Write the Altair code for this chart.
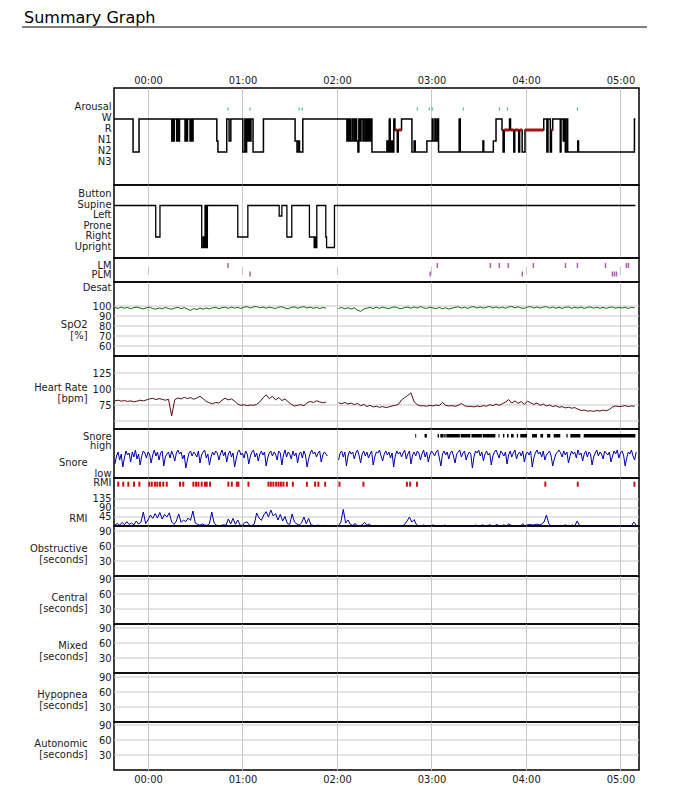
import altair as alt
import pandas as pd

# ---------------- data (times are minutes after 00:00) ----------------
chart_title = "Summary Graph"
hour_ticks = [0, 60, 120, 180, 240, 300]
x_domain = [-21.6, 311.8]

stage_names = ["Arousal", "W", "R", "N1", "N2", "N3"]
hyp_t = [-21.6, -9.5, -5.7, 15.1, 15.6, 16.2, 16.7, 18.2, 18.8, 19.5, 20.0, 23.5, 24.0, 24.6, 25.1, 26.7, 27.2, 27.8, 28.6,
         43.7, 44.4, 50.0, 51.5, 52.6, 60.2, 61.5, 62.0, 62.6, 63.4, 64.0, 64.8, 65.4, 66.7, 73.3,
         93.4, 94.6, 95.6, 96.2, 98.3,
         126.3, 126.9, 127.6, 128.2, 128.9, 130.0, 131.0, 131.6, 132.5, 133.3, 133.9, 134.7, 135.3, 136.5, 137.0, 138.0, 138.6, 139.5, 140.1, 141.0, 141.6,
         142.2, 151.7, 152.4, 153.2, 153.8, 154.6, 155.3, 156.1, 156.8, 158.3, 158.9, 161.0, 167.6, 169.0, 169.7, 177.1, 180.5, 181.0, 182.2, 182.8, 183.8, 184.5, 197.6, 198.3, 212.7, 213.2, 219.3, 221.0,
         224.8, 225.5, 226.2, 229.6, 230.2, 232.3, 232.9, 235.4, 236.0, 237.6, 239.4, 251.3, 253.3, 254.0, 255.5, 256.2, 257.0, 261.8, 262.3, 263.7, 264.3, 265.0, 266.0, 266.5, 272.9, 273.4, 308.9, 309.5]
hyp_stage = [1, 4, 1, 3, 1, 3, 1, 3, 1, 3, 1, 3, 1, 3, 1, 3, 1, 3, 1,
             3, 4, 1, 3, 1, 4, 1, 4, 1, 3, 1, 3, 1, 4, 1,
             3, 4, 3, 4, 1,
             3, 1, 3, 1, 3, 1, 3, 1, 3, 4, 1, 3, 1, 3, 1, 3, 1, 3, 1, 3, 1,
             4, 3, 4, 1, 4, 3, 4, 1, 2, 4, 2, 1, 4, 3, 4, 3, 1, 3, 1, 3, 1, 4, 1, 4, 3, 4, 3, 1,
             2, 4, 2, 1, 2, 4, 2, 4, 2, 4, 2, 1, 4, 1, 4, 2, 1, 4, 1, 3, 1, 4, 1, 4, 3, 4, 1, 1]
arousal_t = [50.8, 64.8, 96.0, 97.9, 171.0, 178.6, 180.5, 200.2, 223.1, 228.2, 272.7]

pos_names = ["Button", "Supine", "Left", "Prone", "Right", "Upright"]
pos_t = [-21.6, 4.9, 7.6, 34.1, 35.0, 35.6, 36.2, 36.6, 37.0, 37.4, 37.7, 57.0, 63.4, 83.3, 85.0,
         88.2, 91.3, 102.5, 105.5, 106.0, 106.5, 107.2, 112.9, 113.4, 118.4, 309.5]
pos_val = [1, 4, 1, 5, 4, 5, 1, 5, 1, 5, 1, 4, 1, 2, 1, 4, 1, 4, 5, 4, 5, 1, 4, 5, 1, 1]

lm_t = [50.8, 183.7, 217.4, 223.1, 228.8, 244.7, 265.1, 272.7, 290.5, 303.8, 305.1]
plm_t = [64.8, 179.2, 237.7, 294.9, 296.2, 297.5]

slow_starts = [-21, 121]
spo2_a = [98.5, 97.6, 98.9, 97.8, 98.6, 97.2, 98.4, 99.0, 97.9, 97.1,
          98.3, 98.8, 97.5, 96.8, 98.1, 97.2, 98.6, 97.4, 96.9, 98.0,
          98.7, 97.3, 98.4, 97.0, 95.6, 97.4, 96.5, 97.9, 96.8, 98.1,
          97.0, 98.2, 98.6, 97.3, 98.3, 98.8, 97.6, 98.9, 97.8, 98.7,
          97.5, 98.9, 99.3, 98.0, 99.1, 99.4, 98.2, 99.0, 97.8, 98.9,
          98.1, 97.5, 98.8, 99.2, 97.9, 97.3, 98.6, 99.1, 97.8, 98.7,
          99.3, 98.0, 98.9, 97.7, 98.6, 97.4, 98.5, 97.9]
spo2_b = [97.6, 98.5, 97.2, 98.3, 96.9, 98.2, 96.0, 94.6, 96.9, 97.9,
          98.6, 97.5, 98.8, 97.7, 98.9, 98.0, 97.4, 98.6, 99.0, 97.8,
          97.3, 98.5, 98.9, 97.7, 99.1, 98.0, 99.4, 98.2, 97.6, 98.9,
          98.0, 97.4, 98.6, 97.2, 98.3, 97.0, 97.8, 98.7, 99.2, 97.9,
          98.8, 97.6, 98.9, 99.3, 98.0, 99.0, 97.9, 98.8, 99.5, 98.1,
          99.1, 97.9, 98.9, 97.7, 99.0, 99.5, 98.2, 99.2, 98.0, 97.7,
          98.9, 99.4, 98.0, 99.1, 97.9, 98.9, 99.3, 97.9, 99.0, 97.8,
          98.8, 97.6, 98.7, 99.1, 97.7, 98.8, 97.9, 98.9, 97.6, 98.6,
          99.0, 97.8, 98.8, 97.7, 98.7, 97.6, 98.6, 98.9, 97.8, 98.7,
          97.9, 98.8, 97.6, 98.6, 98.2]

hr_a = [81.5, 82.5, 81.0, 82.0, 80.5, 81.5, 80.0, 81.0, 82.5, 81.5, 83.0, 84.5, 85.5, 83.5, 85.0, 84.0, 82.5,
        84.0, 58.0, 83.5, 86.0, 84.5, 87.0, 85.0, 86.5, 84.0, 86.0, 88.5, 85.0, 80.5, 78.5, 77.0, 79.0, 78.0,
        82.5, 85.5, 83.0, 84.5, 81.0, 76.5, 74.5, 75.5, 74.0, 75.0, 74.5, 76.0, 80.0, 86.0, 91.0, 85.0, 88.5,
        83.0, 86.5, 82.0, 84.5, 80.0, 76.0, 73.5, 74.5, 75.5, 74.0, 78.5, 80.5, 79.0, 81.5, 80.0, 78.5, 79.5]
hr_b = [78.5, 77.0, 79.0, 76.5, 78.0, 75.5, 77.5, 74.0, 76.0, 72.5, 74.5, 72.0, 73.0, 71.5, 72.5, 71.0, 72.0,
        73.5, 74.5, 76.0, 83.0, 86.5, 90.0, 94.0, 80.0, 75.5, 73.5, 74.0, 73.0, 74.5, 73.5, 75.0, 74.0, 79.0,
        74.5, 73.5, 74.0, 73.0, 74.5, 77.5, 74.0, 72.5, 73.0, 72.0, 73.5, 72.5, 74.0, 73.0, 75.5, 74.0, 76.5,
        74.5, 77.0, 79.5, 83.5, 78.0, 81.5, 77.5, 80.5, 76.0, 81.0, 78.5, 76.0, 78.0, 74.5, 76.5, 73.5, 75.0,
        72.5, 74.0, 71.5, 72.5, 70.5, 71.5, 70.0, 71.0, 68.5, 66.5, 67.0, 65.5, 66.0, 65.0, 66.5, 65.5, 67.0,
        66.0, 68.0, 72.0, 73.5, 72.5, 73.0, 74.0, 72.5, 73.5, 73.0]

snore_starts = [-21, 121]
snore_a = [14, 22, 26, 18, 24, 11, 20, 27, 23, 25, 16, 26, 21, 28, 19, 24, 13, 22, 27, 25,
           20, 26, 24, 15, 23, 28, 22, 26, 18, 25, 27, 12, 21, 24, 26, 20, 27, 23, 17, 25,
           28, 24, 26, 19, 23, 10, 18, 25, 27, 22, 26, 24, 21, 27, 15, 23, 26, 28, 20, 24,
           13, 21, 26, 23, 27, 25, 18, 24, 28, 22, 26, 16, 24, 27, 21, 25, 11, 19, 26, 28,
           23, 25, 20, 27, 24, 14, 22, 26, 28, 21, 25, 17, 24, 27, 23, 26, 12, 20, 25, 27,
           22, 26, 24, 18, 27, 25, 13, 23, 28, 21, 26, 24, 19, 27, 22, 25, 15, 24, 26, 20,
           27, 23, 11, 19, 25, 28, 24, 26, 21, 25, 27, 16, 23, 26, 24, 22]
snore_b = [18, 25, 27, 21, 26, 12, 22, 27, 24, 26, 19, 25, 28, 23, 15, 24, 27, 22, 26, 20,
           24, 27, 13, 21, 26, 25, 28, 22, 17, 24, 27, 23, 26, 20, 25, 11, 22, 27, 24, 26,
           21, 25, 28, 19, 24, 27, 14, 23, 26, 22, 27, 25, 18, 24, 28, 21, 26, 16, 23, 27,
           25, 22, 26, 28, 20, 12, 24, 27, 23, 26, 19, 25, 27, 22, 15, 24, 26, 28, 21, 25,
           27, 18, 23, 26, 24, 10, 21, 27, 25, 28, 22, 26, 17, 24, 27, 23, 25, 13, 22, 26,
           28, 24, 20, 27, 25, 22, 26, 14, 23, 27, 21, 25, 28, 19, 24, 26, 22, 27, 16, 24,
           26, 23, 27, 11, 20, 25, 28, 24, 26, 21, 27, 18, 23, 25, 27, 22, 12, 19, 24, 26,
           28, 25, 21, 27, 23, 26, 15, 22, 27, 24, 26, 20, 28, 23, 25, 17, 24, 27, 21, 26,
           24, 13, 21, 25, 28, 22, 26, 24, 19, 27, 25, 23, 26, 16, 22, 27, 24, 28, 20, 25,
           27, 23, 12, 20, 26, 24, 28, 22, 18, 26]
snore_ev_start = [169.7, 175.6, 183.9, 185.6, 188.1, 189.4, 198.5, 205.4, 212.5, 222.6, 225.4, 228.0, 230.5,
                  234.2, 236.4, 243.9, 249.2, 253.4, 257.6, 265.7, 268.2, 276.7]
snore_ev_end = [170.3, 177.1, 184.8, 187.7, 189.0, 198.0, 204.7, 212.0, 220.6, 223.2, 226.3, 229.0, 232.2,
                235.0, 240.7, 247.0, 250.9, 255.5, 261.8, 266.5, 274.6, 309.5]

rmi_starts = [-21, 121]
rmi_a = [5, 12, 4, 18, 6, 22, 8, 15, 5, 25, 10, 18, 70, 12, 30, 55, 38, 62, 40, 68,
         35, 58, 45, 66, 20, 8, 25, 60, 18, 30, 22, 40, 28, 75, 15, 8, 4, 10, 5, 3,
         12, 70, 15, 4, 2, 3, 6, 3, 35, 10, 38, 8, 30, 4, 2, 18, 20, 3, 2, 10,
         65, 40, 28, 55, 72, 45, 80, 50, 62, 30, 58, 25, 48, 12, 8, 60, 20, 10, 5, 15,
         45, 12, 38, 6, 3, 2, 4, 2, 3, 2, 2]
rmi_b = [2, 20, 83, 15, 30, 8, 3, 12, 2, 0, 6, 18, 4, 10, 0, 0, 3, 0, 0, 0,
         0, 0, 0, 0, 0, 0, 0, 0, 8, 25, 45, 20, 32, 6, 0, 0, 5, 0, 0, 0,
         6, 0, 0, 0, 0, 5, 0, 0, 0, 0, 0, 0, 0, 0, 0, 0, 0, 0, 5, 0,
         0, 6, 0, 0, 7, 0, 0, 8, 0, 0, 6, 0, 10, 4, 0, 0, 0, 0, 12, 0,
         6, 8, 5, 7, 9, 6, 10, 20, 55, 12, 0, 0, 0, 0, 0, 0, 6, 0, 0, 5,
         0, 25, 4, 0, 0, 0, 0, 0, 0, 0, 0, 0, 0, 0, 0, 0, 0, 0, 0, 0,
         0, 0, 0, 0, 0, 20, 4]
rmi_ev = [-18.9, -15.7, -12.5, -8.9, -5.5, 0.8, 2.4, 4.4, 5.9, 7.6, 9.7, 11.9, 20.3, 22.4, 28.8, 30.5, 32.0,
          34.1, 36.2, 37.3, 39.4, 51.0, 53.2, 56.4, 57.4, 63.8, 76.5, 78.0, 79.6, 81.4, 82.9, 84.4, 86.0, 88.2,
          92.0, 100.9, 106.1, 108.2, 112.5, 121.6, 136.8, 164.4, 166.5, 170.8, 252.3, 272.9, 308.9]

spo2_labels = [100, 90, 80, 70, 60]
hr_labels = [125, 100, 75]
hr_grid = [125, 100, 75, 50]
rmi_labels = [135, 90, 45]
event_labels = [90, 60, 30]
event_panels = ["Obstructive", "Central", "Mixed", "Hypopnea", "Autonomic"]

# ---------------- styling ----------------
FONT = "DejaVu Sans Condensed, Liberation Sans, Arial, sans-serif"
TITLE_FONT = "DejaVu Sans, Verdana, sans-serif"
TXT = "#1a1a1a"
GRID = "#c8c8c8"
W = 525


def trace_frame(starts, parts, step):
    rows = []
    for s, (start, vals) in enumerate(zip(starts, parts)):
        for i, v in enumerate(vals):
            rows.append({"t": start + step * i, "v": v, "seg": s})
    return pd.DataFrame(rows)


hyp_df = pd.DataFrame({"t": hyp_t, "stage": hyp_stage})
hyp_df["t2"] = hyp_df["t"].shift(-1)
rem_df = hyp_df[(hyp_df["stage"] == 2) & hyp_df["t2"].notna()]
pos_df = pd.DataFrame({"t": pos_t, "pos": pos_val})
ar_df = pd.DataFrame({"t": arousal_t})
lm_df = pd.concat([pd.DataFrame({"t": lm_t, "kind": "LM"}), pd.DataFrame({"t": plm_t, "kind": "PLM"})])
spo2_df = trace_frame(slow_starts, [spo2_a, spo2_b], 2)
hr_df = trace_frame(slow_starts, [hr_a, hr_b], 2)
snore_df = trace_frame(snore_starts, [snore_a, snore_b], 1)
rmi_df = trace_frame(rmi_starts, [rmi_a, rmi_b], 1.5)
sev_df = pd.DataFrame({"t": snore_ev_start, "t1": snore_ev_end})
rev_df = pd.DataFrame({"t": rmi_ev})
hours_df = pd.DataFrame({"t": hour_ticks})
title_df = pd.DataFrame({"txt": [chart_title]})

xs = alt.Scale(domain=x_domain, nice=False, zero=False)
XEXPR = "'0' + floor(datum.value / 60) + ':00'"


def xaxis(kind):
    common = dict(values=hour_ticks, grid=True, gridColor=GRID, gridWidth=1, domain=False,
                  ticks=False, tickSize=0, title=None)
    if kind in ("top", "bottom"):
        return alt.Axis(orient=kind, labelExpr=XEXPR, labelFont=FONT, labelFontSize=11,
                        labelColor=TXT, labelPadding=3, labelFlush=False, **common)
    return alt.Axis(labels=False, **common)


def X(kind, field="t"):
    return alt.X(f"{field}:Q", scale=xs, axis=xaxis(kind))


def yaxis(values=None, expr=None, title=None, title_y=0, label_offset=0):
    kw = dict(grid=False, domain=False, ticks=False, tickSize=0, labelPadding=3,
              labelFont=FONT, labelFontSize=11, labelColor=TXT,
              labelOverlap=False, labelFlush=False)
    if values is not None:
        kw["values"] = values
    if expr:
        kw["labelExpr"] = expr
    if label_offset:
        kw["labelOffset"] = label_offset
    if title is not None:
        kw.update(title=title, titleAngle=0, titleAlign="right", titleBaseline="top",
                  titleX=-27, titleY=title_y, titleFont=FONT, titleFontSize=11,
                  titleFontWeight="normal", titleColor=TXT, titleLineHeight=11)
    else:
        kw["title"] = None
    return alt.Axis(**kw)


def names_expr(names):
    return "[" + ",".join(f"'{n}'" for n in names) + "][datum.value]"


def hgrid(values, Y):
    return alt.Chart(pd.DataFrame({"g": values})).mark_rule(color=GRID, strokeWidth=1).encode(y=Y("g:Q"))


def vhold(kind):
    return alt.Chart(hours_df).mark_rule(opacity=0).encode(x=X(kind))


# ---- panel 1: hypnogram ----
ys1 = alt.Scale(domain=[-1.818, 7.0], reverse=True, nice=False, zero=False)
ya1 = yaxis(values=list(range(len(stage_names))), expr=names_expr(stage_names), label_offset=-1)
Y1 = lambda f: alt.Y(f, scale=ys1, axis=ya1)
p1 = alt.layer(
    alt.Chart(title_df).mark_text(align="left", baseline="top", font=TITLE_FONT, fontSize=16, color="black")
    .encode(x=alt.value(-90), y=alt.value(-78.5), text="txt:N"),
    alt.Chart(title_df).mark_rule(color="black", strokeWidth=1)
    .encode(x=alt.value(-92), x2=alt.value(533), y=alt.value(-61)),
    alt.Chart(hyp_df).mark_line(interpolate="step-after", color="black", strokeWidth=1.5)
    .encode(x=X("top"), y=Y1("stage:Q")),
    alt.Chart(rem_df).mark_rule(color="#a31515", strokeWidth=3)
    .encode(x=X("top"), x2="t2:Q", y=Y1("stage:Q")),
    alt.Chart(ar_df).mark_rule(color="#2bbf5a", strokeWidth=1)
    .encode(x=X("top"), y=alt.value(19.5), y2=alt.value(22.5)),
).properties(width=W, height=97)

# ---- panel 2: body position ----
ys2 = alt.Scale(domain=[-0.952, 6.0], reverse=True, nice=False, zero=False)
ya2 = yaxis(values=list(range(len(pos_names))), expr=names_expr(pos_names), label_offset=-1)
p2 = alt.layer(
    alt.Chart(pos_df).mark_line(interpolate="step-after", color="black", strokeWidth=1.3)
    .encode(x=X("mid"), y=alt.Y("pos:Q", scale=ys2, axis=ya2)),
).properties(width=W, height=73)

# ---- panel 3: LM / PLM ----
p3 = alt.layer(
    vhold("mid"),
    alt.Chart(lm_df).mark_tick(color="#8e1c8e", size=5, thickness=1.5)
    .encode(x=X("mid"), y=alt.Y("kind:N", scale=alt.Scale(type="point", domain=["LM", "PLM"], range=[7.5, 16], padding=0),
                                axis=yaxis())),
).properties(width=W, height=24)

# ---- panel 4: SpO2 ----
ys4 = alt.Scale(domain=[50, 124], nice=False, zero=False)
ya4 = yaxis(values=[119] + spo2_labels, expr="datum.value == 119 ? 'Desat' : datum.label",
            title=["SpO2", "[%]"], title_y=36)
Y4 = lambda f: alt.Y(f, scale=ys4, axis=ya4)
p4 = alt.layer(
    hgrid(spo2_labels, Y4),
    alt.Chart(spo2_df).mark_line(color="#0b6b0b", strokeWidth=1)
    .encode(x=X("mid"), y=Y4("v:Q"), detail="seg:N"),
).properties(width=W, height=74)

# ---- panel 5: heart rate ----
ys5 = alt.Scale(domain=[37.5, 151.6], nice=False, zero=False)
ya5 = yaxis(values=hr_labels, title=["Heart Rate", "[bpm]"], title_y=25)
Y5 = lambda f: alt.Y(f, scale=ys5, axis=ya5)
p5 = alt.layer(
    hgrid(hr_grid, Y5),
    alt.Chart(hr_df).mark_line(color="#5b0d0d", strokeWidth=1)
    .encode(x=X("mid"), y=Y5("v:Q"), detail="seg:N"),
).properties(width=W, height=73)

# ---- panel 6: snore ----
ys6 = alt.Scale(domain=[0, 49], nice=False, zero=False)
ya6 = yaxis(values=[42, 33, 5], expr="datum.value == 42 ? 'Snore' : (datum.value == 33 ? 'high' : 'low')",
            title="Snore", title_y=27)
p6 = alt.layer(
    alt.Chart(snore_df).mark_line(color="#0000b0", strokeWidth=1)
    .encode(x=X("mid"), y=alt.Y("v:Q", scale=ys6, axis=ya6), detail="seg:N"),
    alt.Chart(sev_df).mark_rect(color="black")
    .encode(x=X("mid"), x2="t1:Q", y=alt.value(5), y2=alt.value(8.5)),
).properties(width=W, height=49)

# ---- panel 7: RMI ----
ys7 = alt.Scale(domain=[0, 240], nice=False, zero=False)
ya7 = yaxis(values=[215] + rmi_labels, expr="datum.value == 215 ? 'RMI' : datum.label",
            title="RMI", title_y=34, label_offset=-1)
Y7 = lambda f: alt.Y(f, scale=ys7, axis=ya7)
p7 = alt.layer(
    hgrid(rmi_labels, Y7),
    alt.Chart(rmi_df).mark_line(color="#0000b0", strokeWidth=1)
    .encode(x=X("mid"), y=Y7("v:Q"), detail="seg:N"),
    alt.Chart(rev_df).mark_rule(color="#d01010", strokeWidth=2)
    .encode(x=X("mid"), y=alt.value(3.7), y2=alt.value(8.7)),
).properties(width=W, height=48)

# ---- panels 8-12: event durations ----
ev_heights = [50, 48, 49, 49, 48]
ev_charts = []
for k, (name, h) in enumerate(zip(event_panels, ev_heights)):
    kind = "bottom" if k == len(event_panels) - 1 else "mid"
    ysk = alt.Scale(domain=[0, h * 2], nice=False, zero=False)
    yak = yaxis(values=event_labels, title=[name, "[seconds]"], title_y=15 if k else 16)
    ev_charts.append(alt.layer(
        vhold(kind),
        hgrid(event_labels, lambda f, s=ysk, a=yak: alt.Y(f, scale=s, axis=a)),
    ).properties(width=W, height=h))

chart = alt.vconcat(p1, p2, p3, p4, p5, p6, p7, *ev_charts, spacing=0, bounds="flush").configure_view(
    stroke="black", strokeWidth=1.5
).properties(padding={"left": 12, "top": 0, "right": 6, "bottom": 2})

chart.save("out.html", embed_options={"renderer": "svg", "actions": False})
